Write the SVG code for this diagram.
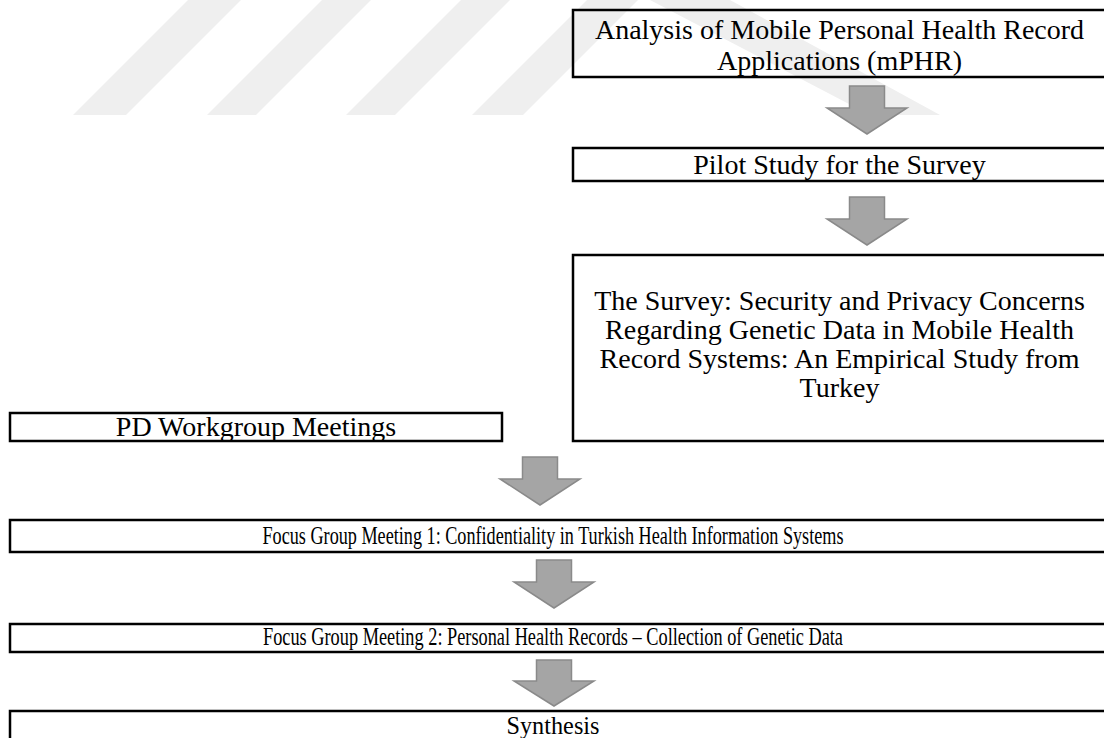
<svg xmlns="http://www.w3.org/2000/svg" width="1104" height="738" viewBox="0 0 1104 738">
<defs>
<style>
.box{fill:none;stroke:#000;stroke-width:2.5}
.t{font-family:"Liberation Serif","Times New Roman",serif;font-size:28px;fill:#000;text-anchor:middle}
.c{font-size:26px}
.arr{fill:#a5a5a5;stroke:#8a8a8a;stroke-width:1.5}
.wm{fill:#efefef}
</style>
</defs>
<rect width="1104" height="738" fill="#fff"/>
<g id="watermark">
<polygon class="wm" points="73,115 126,115 241,0 188,0"/>
<polygon class="wm" points="207,115 256,115 371,0 322,0"/>
<polygon class="wm" points="346,115 395,115 510,0 461,0"/>
<polygon class="wm" points="472,115 523,115 638,0 587,0"/>
<polygon class="wm" points="650,0 730,0 940,115 870,115"/>
</g>
<g id="connectors">
<path class="arr" d="M849.5,86 h35 v22 h22.5 L867,134 L827,108 h22.5 z"/>
<path class="arr" d="M849.5,197 h35 v22 h22.5 L867,245 L827,219 h22.5 z"/>
<path class="arr" d="M522.5,457 h35 v22 h22.5 L540,505 L500,479 h22.5 z"/>
<path class="arr" d="M536.5,560 h35 v22 h22.5 L554,608 L514,582 h22.5 z"/>
<path class="arr" d="M536.5,660 h35 v21 h22.5 L554,706 L514,681 h22.5 z"/>
</g>
<g id="n1">
<rect class="box" x="573" y="10" width="540" height="67"/>
<text class="t" x="839.5" y="39">Analysis of Mobile Personal Health Record</text>
<text class="t" x="839.5" y="70">Applications (mPHR)</text>
</g>
<g id="n2">
<rect class="box" x="573" y="148" width="540" height="33"/>
<text class="t" x="839.5" y="174">Pilot Study for the Survey</text>
</g>
<g id="n3">
<rect class="box" x="573" y="255" width="540" height="186"/>
<text class="t" x="839.5" y="310">The Survey: Security and Privacy Concerns</text>
<text class="t" x="839.5" y="339">Regarding Genetic Data in Mobile Health</text>
<text class="t" x="839.5" y="368">Record Systems: An Empirical Study from</text>
<text class="t" x="839.5" y="397">Turkey</text>
</g>
<g id="n4">
<rect class="box" x="10" y="413" width="492" height="28"/>
<text class="t" x="256" y="436">PD Workgroup Meetings</text>
</g>
<g id="n5">
<rect class="box" x="10" y="520" width="1103" height="32"/>
<text class="t c" x="553" y="544" textLength="581" lengthAdjust="spacingAndGlyphs">Focus Group Meeting 1: Confidentiality in Turkish Health Information Systems</text>
</g>
<g id="n6">
<rect class="box" x="10" y="624" width="1103" height="28"/>
<text class="t c" x="553" y="645" textLength="580" lengthAdjust="spacingAndGlyphs">Focus Group Meeting 2: Personal Health Records – Collection of Genetic Data</text>
</g>
<g id="n7">
<rect class="box" x="10" y="711" width="1103" height="40"/>
<text class="t c" x="553" y="734" textLength="93" lengthAdjust="spacingAndGlyphs">Synthesis</text>
</g>
</svg>
